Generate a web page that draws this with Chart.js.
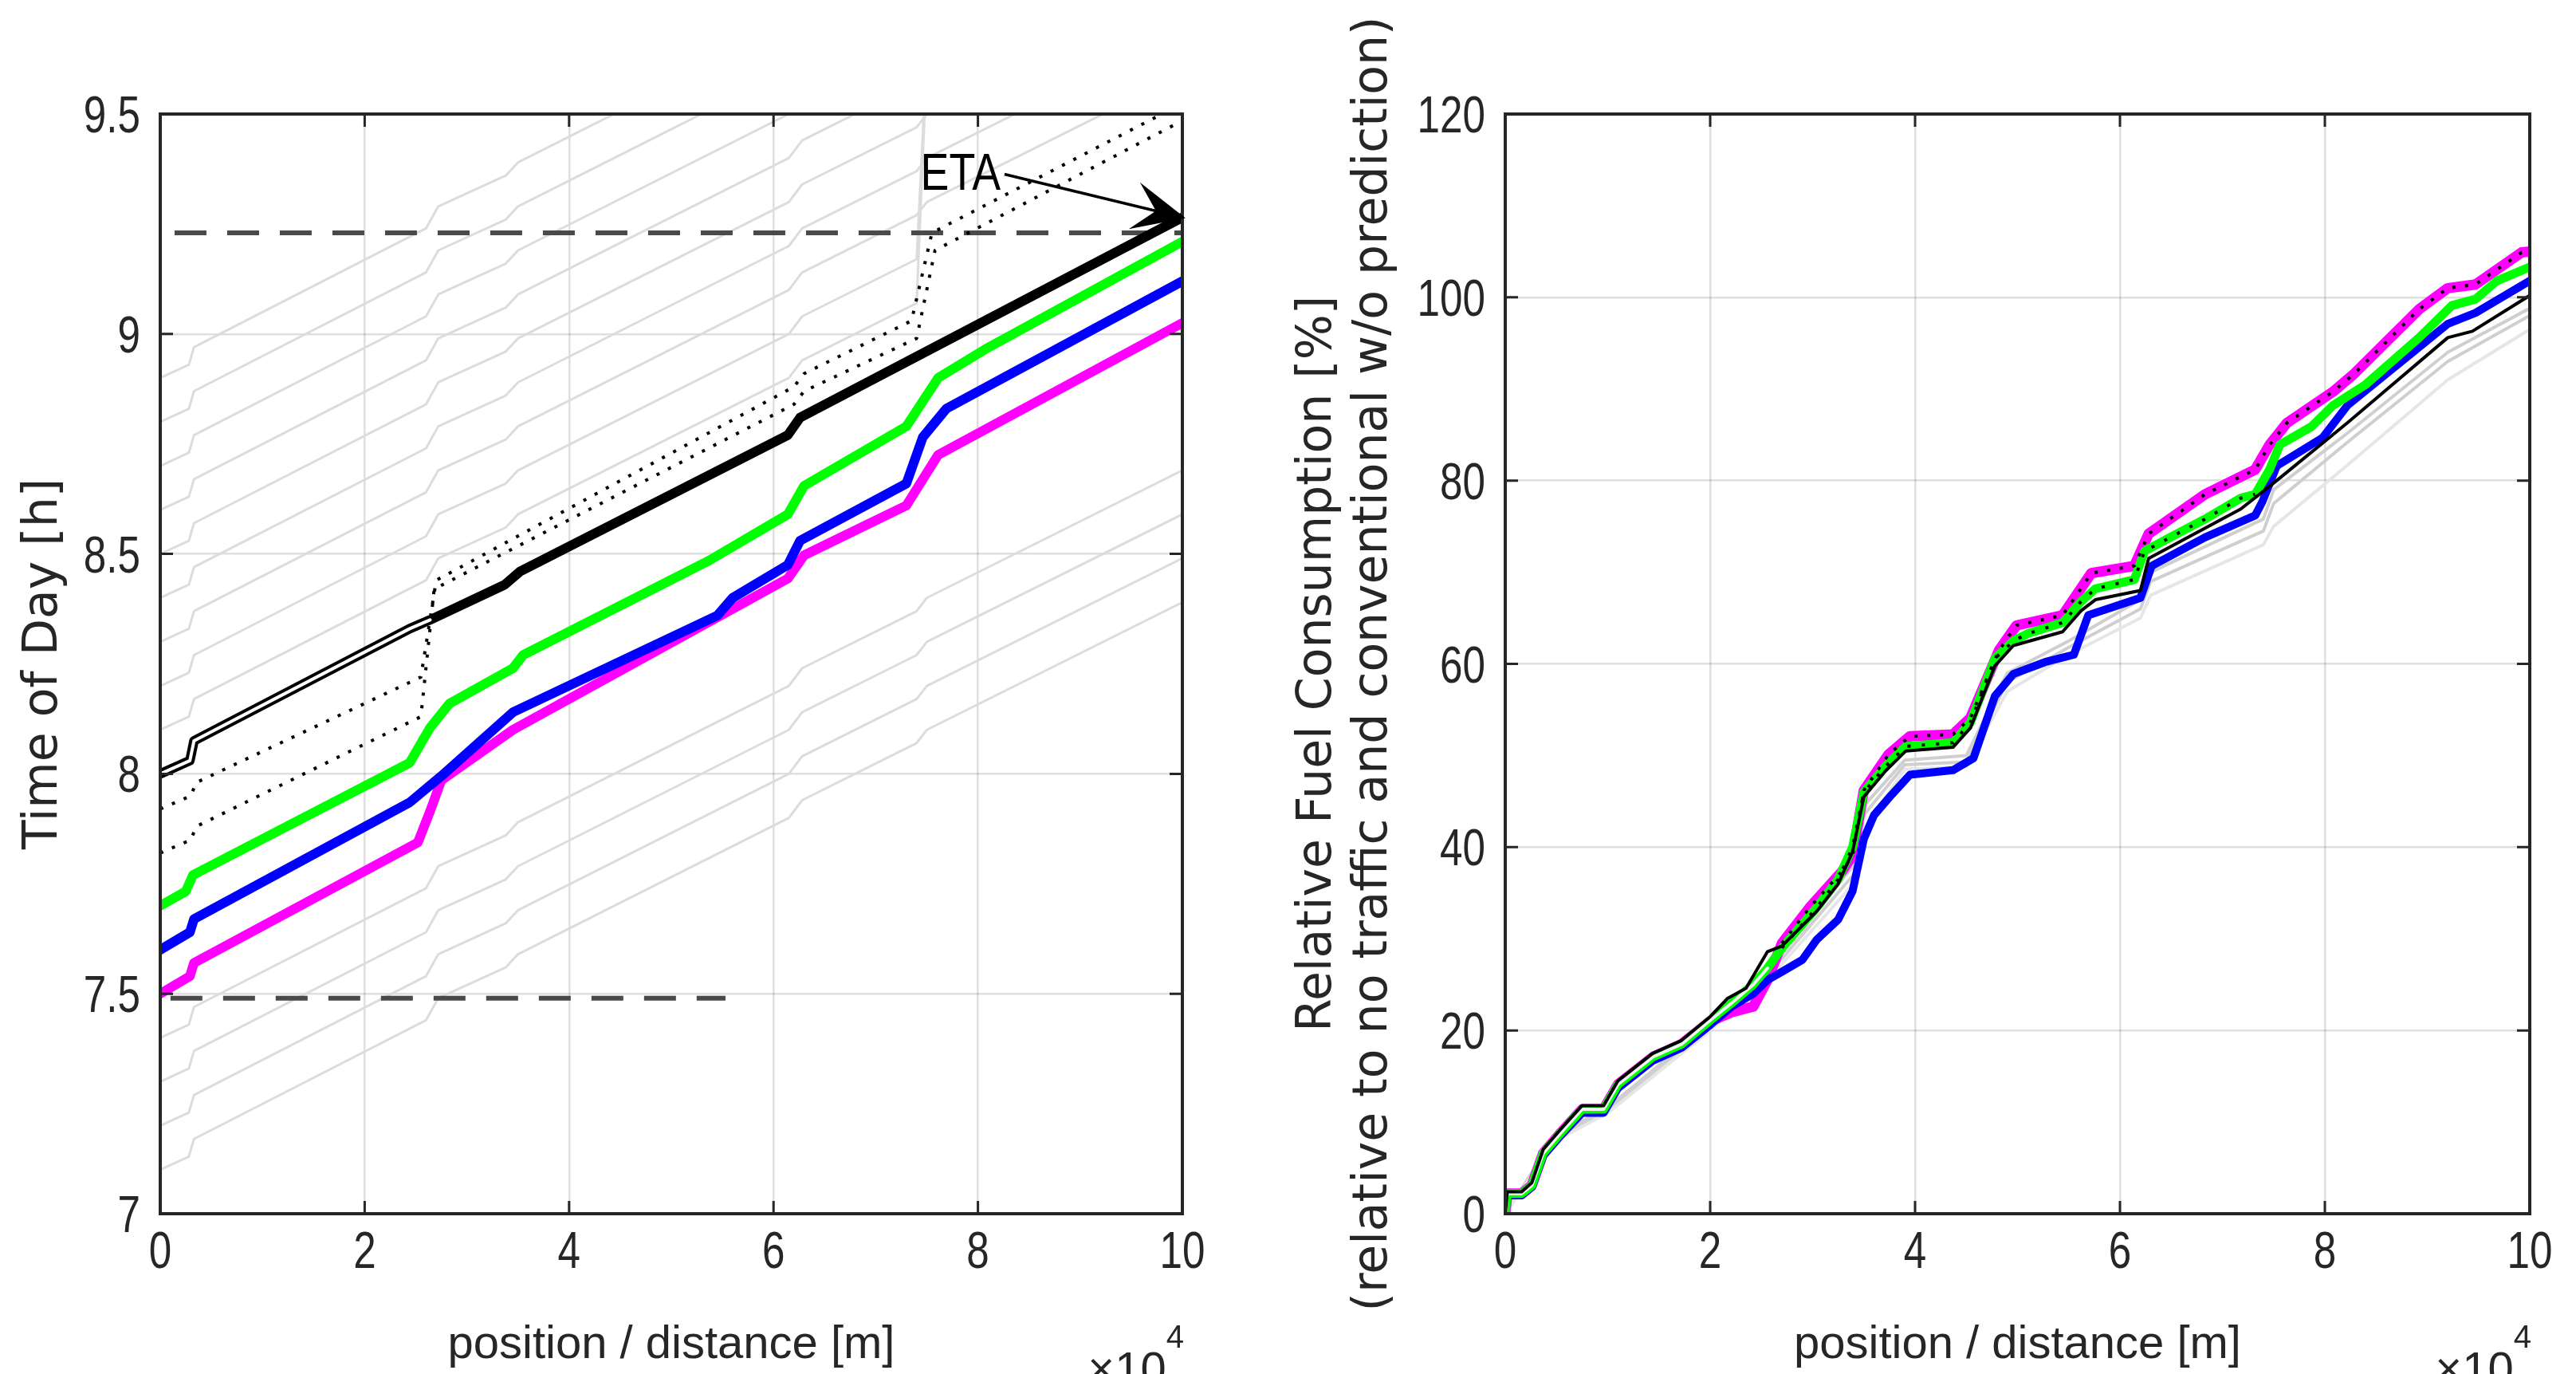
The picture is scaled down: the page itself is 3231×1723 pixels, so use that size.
<!DOCTYPE html>
<html>
<head>
<meta charset="utf-8">
<script src="https://cdn.jsdelivr.net/npm/chart.js@4.4.1/dist/chart.umd.min.js"></script>
<style>
  html, body { margin: 0; padding: 0; background: #fff; }
  body { width: 3231px; height: 1723px; position: relative; overflow: hidden; }
  canvas { position: absolute; top: 0; }
  #chart_left { left: 0; }
  #chart_right { left: 1580px; }
</style>
</head>
<body>
<canvas id="chart_left" width="1600" height="1723"></canvas>
<canvas id="chart_right" width="1651" height="1723"></canvas>
<script>
// ---- left: time of day [h] over position [m] ----
var posBlack = [0, 2900, 3300, 24400, 26400, 33700, 35200, 61400, 62600, 100000];
var todBlack = [8.00, 8.03, 8.075, 8.33, 8.35, 8.43, 8.46, 8.77, 8.81, 9.265];
var posGreen = [0, 2500, 3200, 24400, 26400, 28300, 34500, 35500, 53700, 61400, 63000, 73000, 76100, 80700, 100000];
var todGreen = [7.70, 7.733, 7.77, 8.025, 8.105, 8.16, 8.24, 8.27, 8.485, 8.59, 8.655, 8.79, 8.90, 8.965, 9.21];
var posBlue = [0, 2900, 3300, 24400, 27500, 34500, 54500, 56000, 61400, 62600, 73000, 74600, 76900, 100000];
var todBlue = [7.60, 7.64, 7.67, 7.935, 7.995, 8.14, 8.36, 8.40, 8.475, 8.53, 8.66, 8.765, 8.83, 9.12];
var posMagenta = [0, 2900, 3300, 25200, 26400, 27500, 34500, 61400, 63000, 73000, 76100, 100000];
var todMagenta = [7.50, 7.54, 7.57, 7.844, 7.915, 7.985, 8.10, 8.444, 8.497, 8.61, 8.725, 9.025];
var posDotA = [0, 3000, 3500, 25500, 27000, 62000, 63000, 73500, 75500, 98000];
var todDotA = [7.92, 7.95, 7.98, 8.22, 8.44, 8.88, 8.91, 9.03, 9.23, 9.5];
var posDotB = [0, 3000, 3500, 25500, 26800, 62000, 63000, 74000, 75800, 100000];
var todDotB = [7.82, 7.85, 7.88, 8.13, 8.42, 8.84, 8.87, 8.99, 9.19, 9.485];
var posEtaLine = [1400, 100000];
var todEtaLine = [9.23, 9.23];
var posStartLine = [1000, 55300];
var todStartLine = [7.49, 7.49];
// other vehicles (light grey)
var posGray = [0, 2800, 3300, 26000, 27200, 33800, 35000, 61500, 62800, 74000, 75000, 100000];
var todGray = [
  [7.10, 7.13, 7.17, 7.44, 7.49, 7.56, 7.59, 7.90, 7.94, 8.07, 8.10, 8.39],
  [7.20, 7.23, 7.27, 7.54, 7.59, 7.66, 7.69, 8.00, 8.04, 8.17, 8.20, 8.49],
  [7.30, 7.33, 7.37, 7.64, 7.69, 7.76, 7.79, 8.10, 8.14, 8.27, 8.30, 8.59],
  [7.40, 7.43, 7.47, 7.74, 7.79, 7.86, 7.89, 8.20, 8.24, 8.37, 8.40, 8.69],
  [8.10, 8.13, 8.17, 8.44, 8.49, 8.56, 8.59, 8.90, 8.94, 9.07, 9.62, 9.90],
  [8.20, 8.23, 8.27, 8.54, 8.59, 8.66, 8.69, 9.00, 9.04, 9.17, 9.64, 9.95],
  [8.30, 8.33, 8.37, 8.64, 8.69, 8.76, 8.79, 9.10, 9.14, 9.27, 9.30, 9.59],
  [8.40, 8.43, 8.47, 8.74, 8.79, 8.86, 8.89, 9.20, 9.24, 9.37, 9.40, 9.69],
  [8.50, 8.53, 8.57, 8.84, 8.89, 8.96, 8.99, 9.30, 9.34, 9.47, 9.50, 9.79],
  [8.60, 8.63, 8.67, 8.94, 8.99, 9.06, 9.09, 9.40, 9.44, 9.57, 9.60, 9.89],
  [8.70, 8.73, 8.77, 9.04, 9.09, 9.16, 9.19, 9.50, 9.54, 9.67, 9.70, 9.99],
  [8.80, 8.83, 8.87, 9.14, 9.19, 9.26, 9.29, 9.60, 9.64, 9.77, 9.80, 10.09],
  [8.90, 8.93, 8.97, 9.24, 9.29, 9.36, 9.39, 9.70, 9.74, 9.87, 9.90, 10.19]
];
var todTicks = [7, 7.5, 8, 8.5, 9, 9.5];

// ---- right: relative fuel consumption [%] over position [m] ----
var fuelPosGreen = [0, 200, 1600, 2600, 3700, 5400, 7500, 9600, 11000, 14400, 17200, 20000, 22100, 24200, 25600, 27000, 30400, 32500, 33900, 35000, 37100, 39100, 43700, 45400, 47800, 49600, 51000, 54400, 56200, 57600, 61400, 62400, 64900, 68300, 71800, 73200, 74600, 75600, 78700, 80800, 84000, 89200, 92400, 94700, 96800, 100000];
var fuelGreen = [0, 2.2, 2.2, 3.1, 6.6, 8.8, 11.4, 11.4, 14.1, 17.1, 18.5, 21.1, 23.0, 25.0, 26.8, 29.0, 33.4, 36.5, 40.0, 46.0, 48.8, 51.0, 51.4, 53.6, 60.6, 62.5, 63.3, 64.5, 66.8, 68.2, 69.2, 72.3, 73.8, 75.8, 78.1, 78.5, 81.2, 83.9, 85.9, 88.2, 90.5, 95.6, 99.1, 99.8, 101.8, 103.3];
var fuelPosMagenta = [0, 200, 1600, 2600, 3700, 5400, 7500, 9600, 11000, 14400, 17200, 20000, 22100, 24200, 25600, 27000, 29700, 32900, 33900, 35000, 37400, 39500, 43700, 45400, 48200, 49900, 54400, 57200, 61400, 62800, 68300, 73200, 74600, 76300, 80800, 82900, 89200, 92000, 94700, 99200, 100000];
var fuelMagenta = [0, 2.2, 2.2, 3.1, 6.6, 8.8, 11.4, 11.4, 14.1, 17.1, 18.5, 21.0, 22.0, 22.6, 25.5, 29.5, 33.4, 37.4, 39.1, 46.2, 50.1, 52.1, 52.3, 54.1, 61.5, 64.2, 65.3, 69.9, 70.7, 74.2, 78.5, 81.2, 83.9, 86.3, 89.7, 91.7, 98.7, 101.0, 101.4, 104.9, 105.0];
var fuelPosBlue = [0, 200, 1600, 2600, 3700, 5400, 7500, 9600, 11000, 14400, 17200, 20000, 22100, 24200, 25600, 27000, 29000, 30400, 32500, 33900, 35000, 36000, 37700, 39500, 43700, 45700, 47800, 49600, 52700, 55500, 56900, 62000, 63100, 68300, 73200, 73900, 75300, 79800, 82200, 92000, 94700, 100000];
var fuelBlue = [0, 2.0, 2.0, 2.9, 6.3, 8.5, 11.0, 11.0, 13.7, 16.7, 18.1, 20.6, 22.6, 24.0, 25.5, 26.4, 27.7, 29.9, 32.1, 35.2, 40.9, 43.5, 45.7, 47.9, 48.4, 49.7, 56.5, 58.9, 60.2, 61.0, 65.3, 67.2, 70.7, 73.8, 76.2, 77.7, 81.6, 84.7, 88.2, 97.1, 98.3, 101.8];
var fuelPosBlack = [0, 200, 1600, 2600, 3700, 5400, 7500, 9600, 11000, 14400, 17200, 20000, 21700, 23500, 25600, 27000, 30400, 32500, 33900, 35000, 37100, 39100, 43700, 45400, 47800, 49600, 54400, 56200, 57600, 62000, 62800, 71800, 75300, 82200, 92000, 94400, 100000];
var fuelBlack = [0, 2.4, 2.4, 3.4, 7.0, 9.2, 11.8, 11.8, 14.5, 17.5, 18.9, 21.5, 23.5, 24.6, 28.6, 29.2, 33.0, 36.0, 39.5, 45.5, 48.3, 50.5, 50.9, 53.0, 59.8, 62.0, 63.5, 65.8, 67.0, 68.0, 71.5, 76.9, 80.0, 86.3, 95.6, 96.3, 100.2];
var fuelPosGray = [0, 5000, 10000, 20000, 26000, 34000, 35000, 39000, 45000, 49000, 55000, 62000, 63000, 74000, 75000, 82000, 92000, 100000];
var fuelGray = [
  [0, 8.6, 11.6, 20.8, 27.0, 38.0, 44.5, 49.5, 50.0, 59.0, 62.5, 67.0, 70.0, 75.8, 79.0, 85.0, 94.0, 98.8],
  [0, 8.3, 11.3, 20.5, 26.5, 37.0, 43.5, 49.0, 49.3, 58.0, 61.8, 66.0, 69.0, 74.5, 77.5, 84.0, 93.0, 98.0],
  [0, 8.0, 11.0, 20.0, 26.0, 36.0, 42.0, 48.5, 48.8, 57.0, 61.0, 65.0, 67.5, 73.0, 75.0, 81.5, 91.0, 96.5]
];
var fuelTicks = [0, 20, 40, 60, 80, 100, 120];
var posTicks = [0, 20000, 40000, 60000, 80000, 100000];

var SANS = '"Liberation Sans", Arial, sans-serif';
var WIDE = '"DejaVu Sans", Verdana, sans-serif';
var INK = '#262626';
var NARROW_X = 0.8; // tick labels in the figure are horizontally squeezed

Chart.defaults.font.family = SANS;
Chart.defaults.color = INK;

function pts(xs, ys, maxX) {
  var out = [];
  for (var i = 0; i < xs.length; i++) {
    if (maxX === undefined || xs[i] <= maxX) out.push({x: xs[i], y: ys[i]});
  }
  return out;
}
function ptsFrom(xs, ys, minX, maxX) {
  var out = [];
  for (var i = 0; i < xs.length; i++) {
    if (xs[i] >= minX && xs[i] <= maxX) out.push({x: xs[i], y: ys[i]});
  }
  return out;
}
function line(data, color, width, extra) {
  var ds = {
    data: data, borderColor: color, borderWidth: width, pointRadius: 0,
    fill: false, tension: 0, borderCapStyle: 'round', borderJoinStyle: 'round'
  };
  for (var k in extra) ds[k] = extra[k];
  return ds;
}
// first in list = drawn at the bottom
function stack(list) {
  return list.map(function (ds, i) { ds.order = list.length - i; return ds; });
}
function squeezed(ctx, text, x, y, align, sx) {
  ctx.save();
  ctx.translate(x, y);
  ctx.scale(sx, 1);
  ctx.textAlign = align;
  ctx.fillText(text, 0, 0);
  ctx.restore();
}

// box, inward ticks, tick labels and the x10^4 exponent
var framePlugin = {
  id: 'frame',
  afterDatasetsDraw: function (chart) {
    var ctx = chart.ctx, a = chart.chartArea, sx = chart.scales.x, sy = chart.scales.y;
    ctx.save();
    ctx.strokeStyle = INK;
    ctx.lineWidth = 3;
    ctx.beginPath();
    sx.ticks.forEach(function (t) {
      var px = sx.getPixelForValue(t.value);
      ctx.moveTo(px, a.bottom); ctx.lineTo(px, a.bottom - 16);
      ctx.moveTo(px, a.top); ctx.lineTo(px, a.top + 16);
    });
    sy.ticks.forEach(function (t) {
      var py = sy.getPixelForValue(t.value);
      ctx.moveTo(a.left, py); ctx.lineTo(a.left + 16, py);
      ctx.moveTo(a.right, py); ctx.lineTo(a.right - 16, py);
    });
    ctx.stroke();
    ctx.lineWidth = 4;
    ctx.strokeRect(a.left, a.top, a.right - a.left, a.bottom - a.top);

    ctx.fillStyle = INK;
    ctx.textBaseline = 'alphabetic';
    ctx.font = '64px ' + SANS;
    sx.ticks.forEach(function (t) {
      squeezed(ctx, String(t.value / 10000), sx.getPixelForValue(t.value), a.bottom + 68, 'center', NARROW_X);
    });
    sy.ticks.forEach(function (t) {
      squeezed(ctx, String(t.value), a.left - 25, sy.getPixelForValue(t.value) + 23, 'right', NARROW_X);
    });

    ctx.textAlign = 'right';
    ctx.font = '40px ' + SANS;
    var w4 = ctx.measureText('4').width;
    ctx.fillText('4', a.right + 2, 1690);
    ctx.font = '58px ' + SANS;
    ctx.fillText('\u00d710', a.right + 2 - w4, 1736);
    ctx.restore();
  }
};

// ETA label with arrow (left plot only)
var etaPlugin = {
  id: 'eta',
  afterDatasetsDraw: function (chart) {
    var ctx = chart.ctx, sx = chart.scales.x, sy = chart.scales.y;
    var tx = sx.getPixelForValue(78300), ty = sy.getPixelForValue(9.36);
    var x0 = sx.getPixelForValue(82600), y0 = sy.getPixelForValue(9.363);
    var x1 = sx.getPixelForValue(100000), y1 = sy.getPixelForValue(9.265);
    ctx.save();
    ctx.fillStyle = '#000';
    ctx.font = '64px ' + SANS;
    ctx.textBaseline = 'middle';
    squeezed(ctx, 'ETA', tx, ty, 'center', 0.84);
    var ang = Math.atan2(y1 - y0, x1 - x0);
    var L = 62, W = 30;
    ctx.strokeStyle = '#000';
    ctx.lineWidth = 3.5;
    ctx.beginPath();
    ctx.moveTo(x0, y0);
    ctx.lineTo(x1 - Math.cos(ang) * L * 0.5, y1 - Math.sin(ang) * L * 0.5);
    ctx.stroke();
    ctx.translate(x1, y1);
    ctx.rotate(ang);
    ctx.beginPath();
    ctx.moveTo(4, 0);
    ctx.lineTo(-L, -W);
    ctx.lineTo(-L * 0.55, 0);
    ctx.lineTo(-L, W);
    ctx.closePath();
    ctx.fill();
    ctx.restore();
  }
};

function xScale() {
  return {
    type: 'linear', min: 0, max: 100000,
    afterBuildTicks: function (s) { s.ticks = posTicks.map(function (v) { return {value: v}; }); },
    ticks: {display: false},
    grid: {color: 'rgba(38,38,38,0.15)', lineWidth: 2.5, drawTicks: false},
    border: {display: false},
    title: {display: true, text: 'position / distance [m]', color: INK, font: {size: 58, lineHeight: 1.2}, padding: {top: 0, bottom: 1}},
    afterFit: function (s) { s.height = 201; }
  };
}
function yScale(min, max, tickVals, title, titlePad, width) {
  return {
    type: 'linear', min: min, max: max,
    afterBuildTicks: function (s) { s.ticks = tickVals.map(function (v) { return {value: v}; }); },
    ticks: {display: false},
    grid: {color: 'rgba(38,38,38,0.15)', lineWidth: 2.5, drawTicks: false},
    border: {display: false},
    title: {display: true, text: title, color: INK, font: {family: WIDE, size: 60, lineHeight: 1.17}, padding: {top: titlePad, bottom: 0}},
    afterFit: function (s) { s.width = width; }
  };
}
function baseOptions(padRight, y) {
  return {
    responsive: false, animation: false, devicePixelRatio: 1,
    layout: {padding: {top: 143, right: padRight, bottom: 0, left: 0}},
    plugins: {legend: {display: false}, tooltip: {enabled: false}},
    scales: {x: xScale(), y: y}
  };
}

// left chart
var leftSets = [];
todGray.forEach(function (row) { leftSets.push(line(pts(posGray, row), '#dcdcdc', 3)); });
leftSets.push(line(pts(posEtaLine, todEtaLine), '#4a4a4a', 6, {borderDash: [40, 26], borderCapStyle: 'butt'}));
leftSets.push(line(pts(posStartLine, todStartLine), '#4a4a4a', 6, {borderDash: [40, 26], borderCapStyle: 'butt'}));
leftSets.push(line(pts(posDotA, todDotA), '#000', 4, {borderDash: [4, 12], borderCapStyle: 'butt'}));
leftSets.push(line(pts(posDotB, todDotB), '#000', 4, {borderDash: [4, 12], borderCapStyle: 'butt'}));
leftSets.push(line(pts(posMagenta, todMagenta), '#ff00ff', 12));
leftSets.push(line(pts(posBlue, todBlue), '#0000ff', 12));
leftSets.push(line(pts(posGreen, todGreen), '#00ff00', 12));
leftSets.push(line(pts(posBlack, todBlack), '#000', 12));
leftSets.push(line(pts(posBlack, todBlack, 26400), '#fff', 4));

new Chart(document.getElementById('chart_left'), {
  type: 'line',
  data: {datasets: stack(leftSets)},
  options: baseOptions(117, yScale(7, 9.5, todTicks, 'Time of Day [h]', 20, 201)),
  plugins: [framePlugin, etaPlugin]
});

// right chart
var rightSets = [];
fuelGray.forEach(function (row, i) { rightSets.push(line(pts(fuelPosGray, row), i === 2 ? '#e6e6e6' : '#cfcfcf', 4)); });
rightSets.push(line(pts(fuelPosMagenta, fuelMagenta), '#ff00ff', 13));
rightSets.push(line(pts(fuelPosBlue, fuelBlue), '#0000ff', 10));
rightSets.push(line(pts(fuelPosGreen, fuelGreen), '#00ff00', 11));
rightSets.push(line(pts(fuelPosGreen, fuelGreen, 25600), '#f2f2f2', 4));
rightSets.push(line(pts(fuelPosBlack, fuelBlack), '#000', 4));
rightSets.push(line(ptsFrom(fuelPosMagenta, fuelMagenta, 27000, 100000), '#000', 4, {borderDash: [4, 12], borderCapStyle: 'butt'}));
rightSets.push(line(ptsFrom(fuelPosGreen, fuelGreen, 27000, 73200), '#000', 4, {borderDash: [4, 14], borderCapStyle: 'butt'}));

new Chart(document.getElementById('chart_right'), {
  type: 'line',
  data: {datasets: stack(rightSets)},
  options: baseOptions(58, yScale(0, 120, fuelTicks,
    ['Relative Fuel Consumption [%]', '(relative to no traffic and conventional w/o prediction)'], 38, 308)),
  plugins: [framePlugin]
});
</script>
</body>
</html>
